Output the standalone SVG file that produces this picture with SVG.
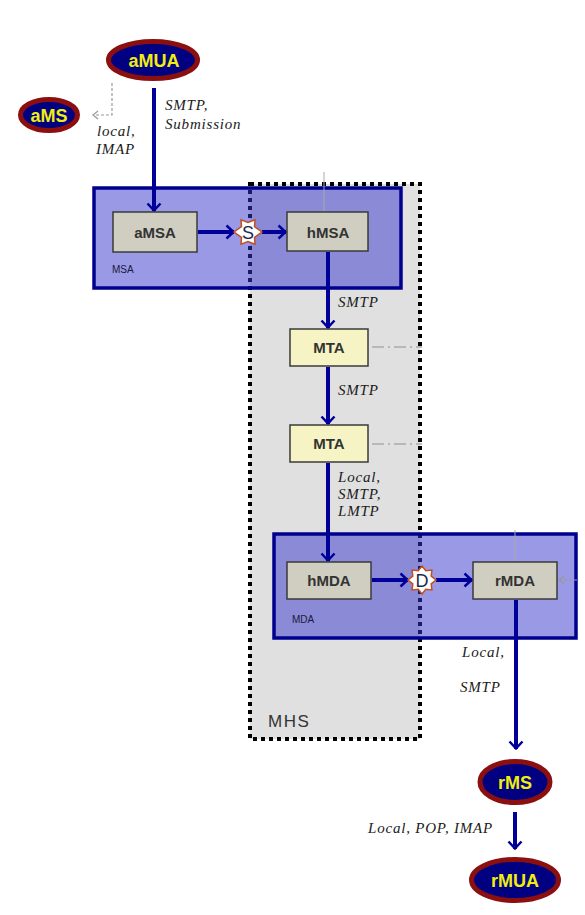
<svg xmlns="http://www.w3.org/2000/svg" width="585" height="915" viewBox="0 0 585 915">
<defs>
<style>
.lbl{font-family:"Liberation Serif","Times New Roman",serif;font-style:italic;font-size:15px;letter-spacing:0.8px;fill:#1a1a1a}
.ell{fill:#000080;stroke:#8b0f0f;stroke-width:5}
.etx{font-family:"Liberation Sans",Arial,sans-serif;font-weight:bold;font-size:18px;fill:#f0ee10;text-anchor:middle}
.box{fill:#cfcec0;stroke:#3a3a3a;stroke-width:1.5}
.mta{fill:#f6f3c4;stroke:#3a3a3a;stroke-width:1.5}
.btx{font-family:"Liberation Sans",Arial,sans-serif;font-weight:bold;font-size:15px;fill:#333;text-anchor:middle}
.grp{fill:#3333cc;fill-opacity:0.5;stroke:#00008f;stroke-width:3.5}
.gtx{font-family:"Liberation Sans",Arial,sans-serif;font-size:10px;fill:#1a1a40}
.flow{stroke:#000099;stroke-width:4;fill:none;marker-end:url(#ah)}
.thin{stroke:#aaa;stroke-width:1;fill:none}
.dash{stroke:#999;stroke-width:1.2;fill:none;stroke-dasharray:3 2;marker-end:url(#gh)}
.dd{stroke:#aaa;stroke-width:1.3;fill:none;stroke-dasharray:12 4 2 4}
.star{fill:#fff;stroke:#c0501e;stroke-width:1.5}
.stx{font-family:"Liberation Sans",Arial,sans-serif;font-size:18px;fill:#1a2a50;text-anchor:middle}
</style>
<marker id="ah" markerUnits="userSpaceOnUse" markerWidth="12" markerHeight="18" refX="9" refY="8" orient="auto">
<path d="M1.5,1.5 L8.5,8 L1.5,14.5" fill="none" stroke="#000099" stroke-width="2.5"/>
</marker>
<marker id="gh" markerUnits="userSpaceOnUse" markerWidth="10" markerHeight="12" refX="6" refY="5" orient="auto">
<path d="M1,1 L6,5 L1,9" fill="none" stroke="#999" stroke-width="1.2"/>
</marker>
</defs>
<rect width="585" height="915" fill="#fff"/>

<g id="MHS">
<rect x="250" y="184" width="170" height="555" fill="#e0e0e0" stroke="#000" stroke-width="4" stroke-dasharray="4 4"/>
<text x="268" y="727" font-family="Liberation Sans,Arial,sans-serif" font-size="17" letter-spacing="1.5" fill="#333">MHS</text>
</g>

<g id="MSA">
<rect class="grp" x="94" y="188" width="307" height="100"/>
<text class="gtx" x="112" y="273">MSA</text>
</g>

<g id="MDA">
<rect class="grp" x="274" y="534" width="302" height="104"/>
<text class="gtx" x="292" y="623">MDA</text>
</g>

<g id="connectors">
<line class="thin" x1="324" y1="172" x2="324" y2="212"/>
<line class="thin" x1="515" y1="530" x2="515" y2="562"/>
<path class="dash" d="M112,83 V115 H93"/>
<path class="dash" d="M577,580 H559"/>
<line class="dd" x1="372" y1="347" x2="422" y2="347"/>
<line class="dd" x1="372" y1="444" x2="422" y2="444"/>
<line class="flow" x1="154" y1="88" x2="154" y2="211"/>
<line class="flow" x1="198" y1="232" x2="234" y2="232"/>
<line class="flow" x1="262" y1="232" x2="286" y2="232"/>
<line class="flow" x1="328" y1="252" x2="328" y2="328"/>
<line class="flow" x1="328" y1="367" x2="328" y2="424"/>
<line class="flow" x1="328" y1="463" x2="328" y2="561"/>
<line class="flow" x1="372" y1="580" x2="408" y2="580"/>
<line class="flow" x1="436" y1="580" x2="472" y2="580"/>
<line class="flow" x1="516" y1="600" x2="516" y2="749"/>
<line class="flow" x1="515" y1="812" x2="515" y2="849"/>
<text class="lbl" x="165" y="110">SMTP,</text>
<text class="lbl" x="165" y="129">Submission</text>
<text class="lbl" x="97" y="136">local,</text>
<text class="lbl" x="96" y="154">IMAP</text>
<text class="lbl" x="338" y="307">SMTP</text>
<text class="lbl" x="338" y="395">SMTP</text>
<text class="lbl" x="338" y="482">Local,</text>
<text class="lbl" x="338" y="499">SMTP,</text>
<text class="lbl" x="338" y="516">LMTP</text>
<text class="lbl" x="462" y="657">Local,</text>
<text class="lbl" x="460" y="692">SMTP</text>
<text class="lbl" x="368" y="833">Local, POP, IMAP</text>
</g>

<g id="aMUA">
<ellipse class="ell" cx="153" cy="60" rx="44.5" ry="18.5"/>
<text class="etx" x="154" y="67">aMUA</text>
</g>
<g id="aMS">
<ellipse class="ell" cx="49" cy="115" rx="28.5" ry="15.5"/>
<text class="etx" x="49" y="122">aMS</text>
</g>
<g id="aMSA">
<rect class="box" x="113" y="212" width="84" height="40"/>
<text class="btx" x="155" y="238">aMSA</text>
</g>
<g id="S">
<polygon class="star" points="262,232 254.5,226.6 255,219.9 248,222.5 241,219.9 241.5,226.6 234,232 241.5,237.4 241,244.1 248,241.5 255,244.1 254.5,237.4"/>
<text class="stx" x="248" y="238.5">S</text>
</g>
<g id="hMSA">
<rect class="box" x="287" y="212" width="81" height="39"/>
<text class="btx" x="328" y="238">hMSA</text>
</g>
<g id="MTA1">
<rect class="mta" x="290" y="329" width="78" height="37"/>
<text class="btx" x="329" y="353">MTA</text>
</g>
<g id="MTA2">
<rect class="mta" x="290" y="425" width="78" height="37"/>
<text class="btx" x="329" y="449">MTA</text>
</g>
<g id="hMDA">
<rect class="box" x="287" y="562" width="84" height="37"/>
<text class="btx" x="329" y="586">hMDA</text>
</g>
<g id="D">
<polygon class="star" points="436,580 431.2,583.8 431.9,589.9 425.8,589.2 422,594 418.2,589.2 412.1,589.9 412.8,583.8 408,580 412.8,576.2 412.1,570.1 418.2,570.8 422,566 425.8,570.8 431.9,570.1 431.2,576.2"/>
<text class="stx" x="422" y="586.5">D</text>
</g>
<g id="rMDA">
<rect class="box" x="473" y="562" width="84" height="37"/>
<text class="btx" x="515" y="586">rMDA</text>
</g>
<g id="rMS">
<ellipse class="ell" cx="515" cy="782" rx="35" ry="20.5"/>
<text class="etx" x="515" y="789">rMS</text>
</g>
<g id="rMUA">
<ellipse class="ell" cx="515" cy="880" rx="43.5" ry="20.5"/>
<text class="etx" x="515" y="887">rMUA</text>
</g>
</svg>
